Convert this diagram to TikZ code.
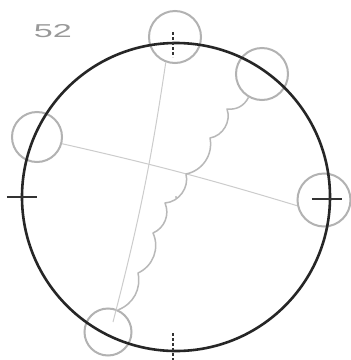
\documentclass[tikz,border=0pt]{standalone}
\usepackage{fontspec}
\setsansfont{Liberation Sans}
\begin{document}
\begin{tikzpicture}[x=1pt,y=-1pt,
  bigring/.style={draw=black!85,line width=2.6pt},
  smallring/.style={circle,draw=black!30,line width=2pt,inner sep=0pt,minimum size=#1},
  thinline/.style={draw=black!20,line width=1pt},
  wavyline/.style={draw=black!28,line width=1.5pt,line join=round},
  tick/.style={draw=black!80,line width=1.3pt},
  dtick/.style={draw=black!80,line width=1.2pt,dash pattern=on 3pt off 2pt}]
\useasboundingbox (0,0) rectangle (351,360);
\fill[white] (0,0) rectangle (351,360);
% label
\node[text=black!40,inner sep=0pt,anchor=center] (lbl) at (53,31) {\resizebox{38pt}{13pt}{\sffamily 52}};
% small rings
\node[smallring=52pt] (ct) at (175,37) {};
\node[smallring=52pt] (cur) at (262,74) {};
\node[smallring=50pt] (cl) at (37,137) {};
\node[smallring=53pt] (cr) at (324,200) {};
\node[smallring=47pt] (cb) at (108,332) {};
% big circle
\coordinate (cen) at (176,197);
\draw[bigring] (cen) circle[radius=154];
% ticks
\coordinate (tl1) at (7,197); \coordinate (tl2) at (37,197);
\coordinate (tr1) at (312,199); \coordinate (tr2) at (342,199);
\coordinate (tt1) at (173,32); \coordinate (tt2) at (173,57);
\coordinate (tb1) at (173,333); \coordinate (tb2) at (173,360);
\draw[tick] (tl1) -- (tl2);
\draw[tick] (tr1) -- (tr2);
\draw[dtick] (tt1) -- (tt2);
\draw[dtick] (tb1) -- (tb2);
% thin lines
\coordinate (bin) at (113,322);
\draw[thinline] (ct.250) to[bend left=3] (bin);
\draw[thinline] (cl.-15) to[bend left=2] (cr.192);
% wavy line
\draw[wavyline] (cur.240)
  to[bend left=35] (227,109)
  to[bend left=50] (210,138)
  to[bend left=45] (186,174)
  to[bend left=50] (165,203)
  to[bend left=45] (153,233)
  to[bend left=45] (138,273)
  to[bend left=40] (cb.65);
% centre dot
\fill[black!40] (cen) circle[radius=0.8];
\end{tikzpicture}
\end{document}
